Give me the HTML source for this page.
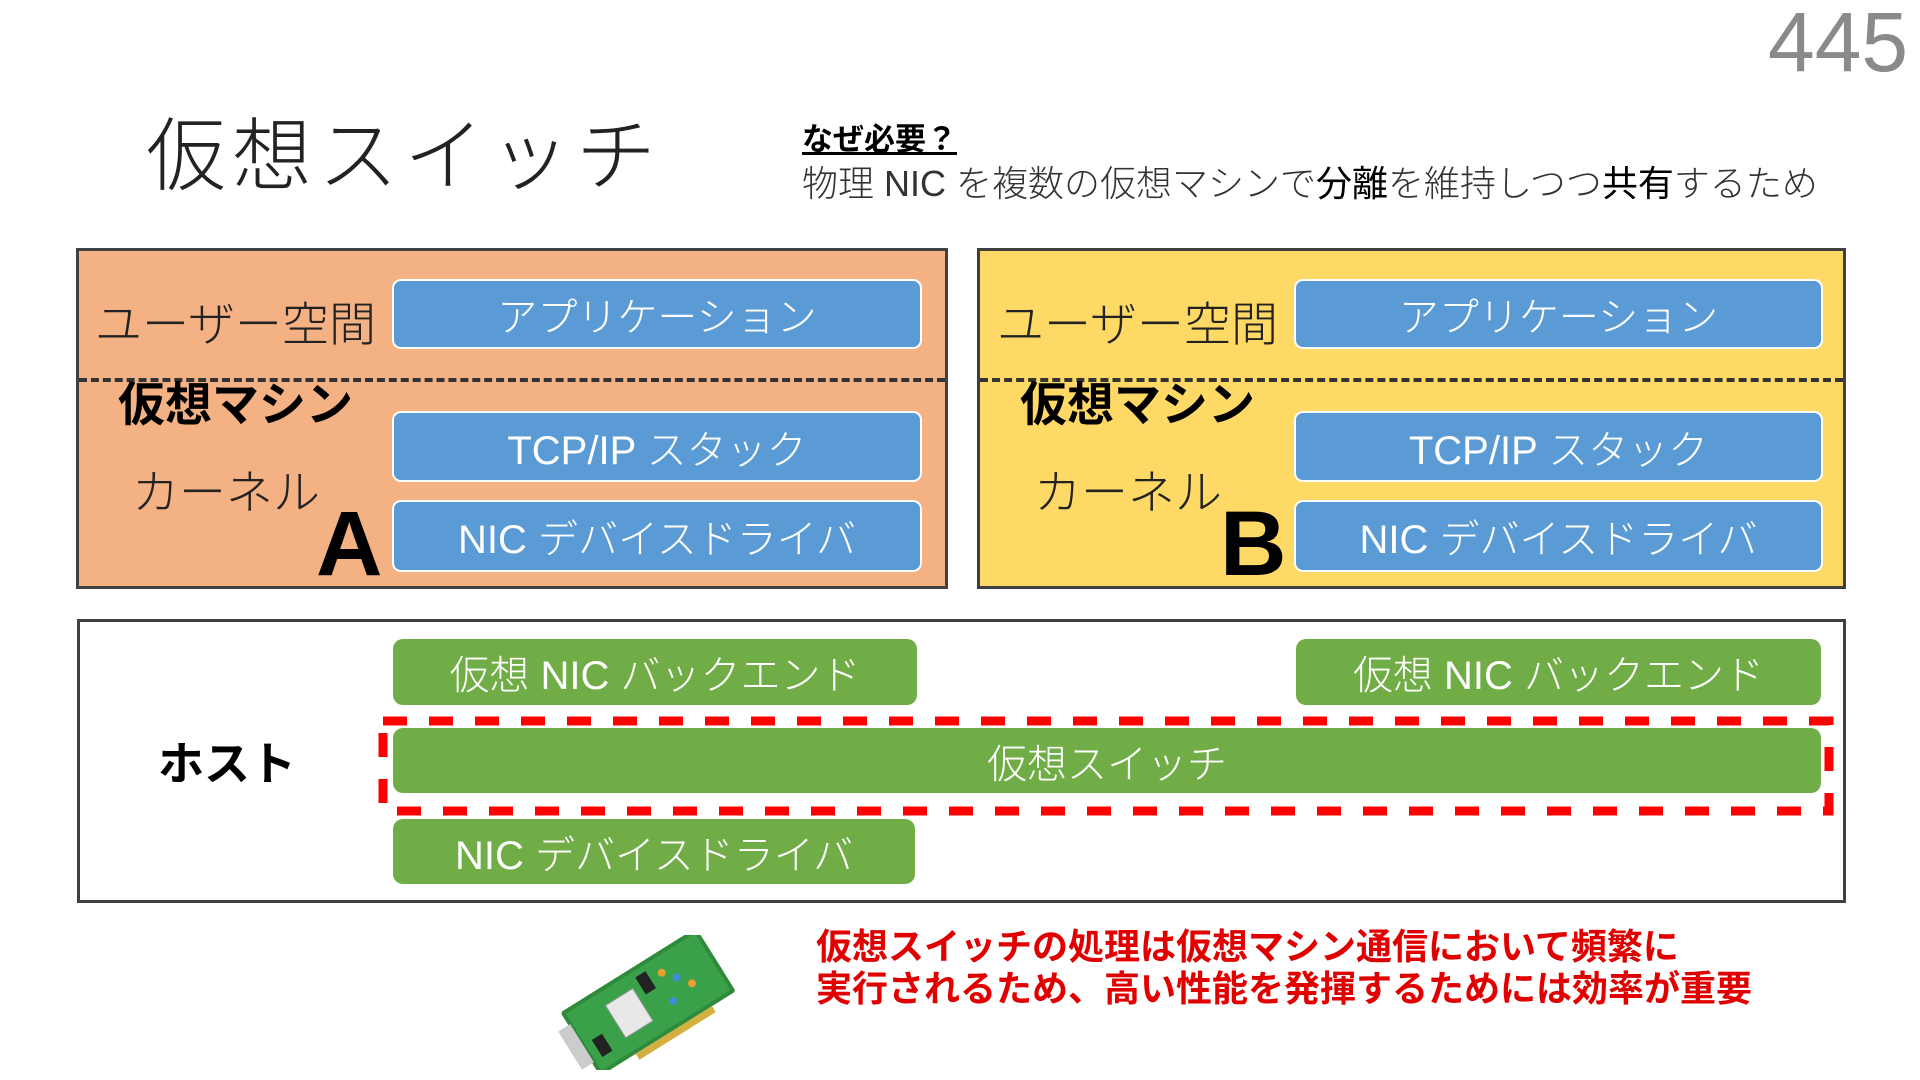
<!DOCTYPE html>
<html><head><meta charset="utf-8"><style>
*{margin:0;padding:0;box-sizing:border-box}
body{width:1920px;height:1080px;background:#fff;position:relative;overflow:hidden;font-family:"Liberation Sans","Noto Sans CJK JP",sans-serif;}
.a{position:absolute;white-space:nowrap}
.box{position:absolute;border:3px solid #404040}
.blue{position:absolute;background:#5B9BD5;border:2px solid #fff;border-radius:9px;color:#fff;font-size:40px;font-weight:300;display:flex;align-items:center;justify-content:center}
.green{position:absolute;background:#70AD47;border-radius:10px;color:#fff;font-size:40px;font-weight:300;display:flex;align-items:center;justify-content:center}
.lbl{position:absolute;font-size:47px;color:#222;font-weight:300;white-space:nowrap}
.b{font-weight:bold;color:#000}
</style></head><body>
<div class="a" style="left:1768px;top:-6px;font-size:84px;color:#8a8a8a;font-weight:300">445</div>
<div class="a" style="left:146px;top:92px;font-size:80px;font-weight:300;color:#222;letter-spacing:6px">仮想スイッチ</div>
<div class="a" style="left:802px;top:114px;font-size:31px;font-weight:bold;text-decoration:underline;color:#000">なぜ必要？</div>
<div class="a" style="left:802px;top:155px;font-size:36px;color:#333;font-weight:300">物理 NIC を複数の仮想マシンで<b style="color:#000">分離</b>を維持しつつ<b style="color:#000">共有</b>するため</div>

<div class="box" style="left:76px;top:248px;width:872px;height:341px;background:#F4B183"></div>
<div class="box" style="left:977px;top:248px;width:869px;height:341px;background:#FFD966"></div>
<div class="a" style="left:79px;top:378px;width:866px;border-top:4px dashed #333"></div>
<div class="a" style="left:980px;top:378px;width:863px;border-top:4px dashed #333"></div>

<div class="lbl" style="left:95px;top:286px">ユーザー空間</div>
<div class="lbl b" style="left:118px;top:366px">仮想マシン</div>
<div class="lbl" style="left:132px;top:454px">カーネル</div>
<div class="a" style="left:316px;top:492px;font-size:92px;font-weight:bold">A</div>
<div class="blue" style="left:392px;top:279px;width:530px;height:70px">アプリケーション</div>
<div class="blue" style="left:392px;top:411px;width:530px;height:71px">TCP/IP スタック</div>
<div class="blue" style="left:392px;top:500px;width:530px;height:72px">NIC デバイスドライバ</div>

<div class="lbl" style="left:997px;top:286px">ユーザー空間</div>
<div class="lbl b" style="left:1020px;top:366px">仮想マシン</div>
<div class="lbl" style="left:1034px;top:454px">カーネル</div>
<div class="a" style="left:1220px;top:492px;font-size:92px;font-weight:bold">B</div>
<div class="blue" style="left:1294px;top:279px;width:529px;height:70px">アプリケーション</div>
<div class="blue" style="left:1294px;top:411px;width:529px;height:71px">TCP/IP スタック</div>
<div class="blue" style="left:1294px;top:500px;width:529px;height:72px">NIC デバイスドライバ</div>

<div class="box" style="left:77px;top:619px;width:1769px;height:284px;background:#fff"></div>
<div class="lbl b" style="left:158px;top:728px;font-size:46px">ホスト</div>
<div class="green" style="left:393px;top:639px;width:524px;height:66px">仮想 NIC バックエンド</div>
<div class="green" style="left:1296px;top:639px;width:525px;height:66px">仮想 NIC バックエンド</div>
<svg class="a" style="left:378px;top:716px" width="1456" height="100">
<rect x="5" y="5" width="1446" height="90" fill="none" stroke="#f00" stroke-width="9" stroke-dasharray="24 22"/></svg>
<div class="green" style="left:393px;top:728px;width:1428px;height:65px">仮想スイッチ</div>
<div class="green" style="left:393px;top:819px;width:522px;height:65px">NIC デバイスドライバ</div>

<div class="a" style="left:816px;top:926px;font-size:36px;font-weight:bold;color:#E00000;line-height:42px">仮想スイッチの処理は仮想マシン通信において頻繁に<br>実行されるため、高い性能を発揮するためには効率が重要</div>

<svg class="a" style="left:550px;top:935px" width="195" height="135" viewBox="0 0 195 135">
<g transform="rotate(-32 97 67)">
<rect x="18" y="30" width="160" height="75" rx="3" fill="#2f8a3a"/>
<rect x="22" y="34" width="152" height="67" fill="#3aa04a"/>
<rect x="60" y="48" width="32" height="38" fill="#e8e8e8" stroke="#999"/>
<rect x="6" y="45" width="14" height="45" fill="#ccc"/>
<rect x="100" y="40" width="12" height="20" fill="#222"/>
<rect x="30" y="70" width="12" height="20" fill="#222"/>
<circle cx="125" cy="50" r="4" fill="#e8a030"/><circle cx="135" cy="62" r="4" fill="#3a8fd8"/>
<circle cx="145" cy="75" r="4" fill="#e8a030"/><circle cx="120" cy="80" r="4" fill="#3a8fd8"/>
<rect x="60" y="105" width="90" height="7" fill="#d4b040"/>
</g></svg>
</body></html>
